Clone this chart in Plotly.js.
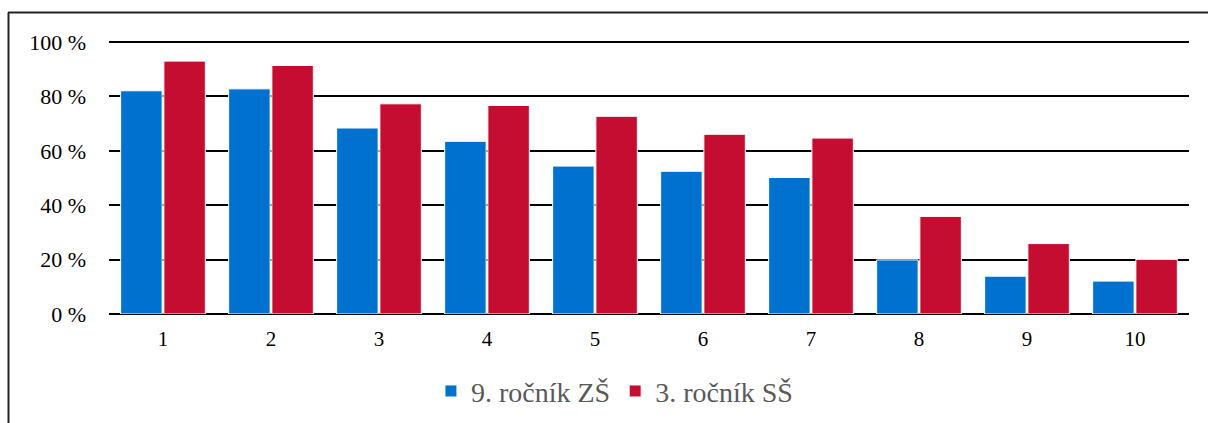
<!DOCTYPE html>
<html>
<head>
<meta charset="utf-8">
<script src="https://cdn.plot.ly/plotly-3.0.1.min.js"></script>
<style>html,body{margin:0;padding:0;background:#fff;}#chart{width:1208px;height:423px;}</style>
</head>
<body>
<div id="chart"></div>
<script>
const categories = ['1','2','3','4','5','6','7','8','9','10'];
const seriesNames = ['9. ročník ZŠ', '3. ročník SŠ'];
const zsValues = [82.1, 82.8, 68.4, 63.5, 54.4, 52.5, 50.2, 19.9, 13.9, 12.1];
const ssValues = [93.0, 91.4, 77.3, 76.7, 72.7, 66.1, 64.7, 35.9, 25.9, 20.1];
const yTicks = [0, 20, 40, 60, 80, 100];

const font = "'Liberation Serif', 'Times New Roman', 'DejaVu Serif', serif";
const traces = [
  {type:'bar', name: seriesNames[0], x: categories, y: zsValues,
   marker:{color:'#0071CE', line:{color:'#ffffff', width:1}}, hoverinfo:'none'},
  {type:'bar', name: seriesNames[1], x: categories, y: ssValues,
   marker:{color:'#C50D32', line:{color:'#ffffff', width:1}}, hoverinfo:'none'}
];
const layout = {
  width:1208, height:423,
  margin:{l:109, r:19, t:41, b:109, autoexpand:false},
  paper_bgcolor:'#fff', plot_bgcolor:'#fff',
  barmode:'group', bargap:0.2, bargroupgap:0.04,
  font:{family:font, color:'#000'},
  xaxis:{type:'category', showgrid:false, zeroline:false, showline:false, automargin:false,
         ticks:'', tickfont:{size:21, color:'#000', family:font}, ticklabelstandoff:10},
  yaxis:{range:[0,100.4], tickvals:yTicks, ticktext: yTicks.map(v => v + ' %'), automargin:false,
         showgrid:true, gridcolor:'#000', gridwidth:2,
         zeroline:true, zerolinecolor:'#000', zerolinewidth:2,
         showline:false, ticks:'', tickfont:{size:22, color:'#000', family:font}, ticklabelstandoff:22},
  showlegend:true,
  legend:{orientation:'h', x:0.468, xanchor:'center', y:-0.283, yanchor:'middle',
          font:{size:28, color:'#595959', family:font}, itemwidth:30, traceorder:'normal'},
  shapes:[
    {type:'line', xref:'paper', yref:'paper', x0:(8-109)/1080, x1:(1212-109)/1080,
     y0:(314-12.5)/273, y1:(314-12.5)/273, line:{color:'#222', width:2}},
    {type:'line', xref:'paper', yref:'paper', x0:(8.5-109)/1080, x1:(8.5-109)/1080,
     y0:(314-12.5)/273, y1:(314-430)/273, line:{color:'#222', width:2}}
  ]
};
Plotly.newPlot('chart', traces, layout, {staticPlot:true, displayModeBar:false});
</script>
</body>
</html>
